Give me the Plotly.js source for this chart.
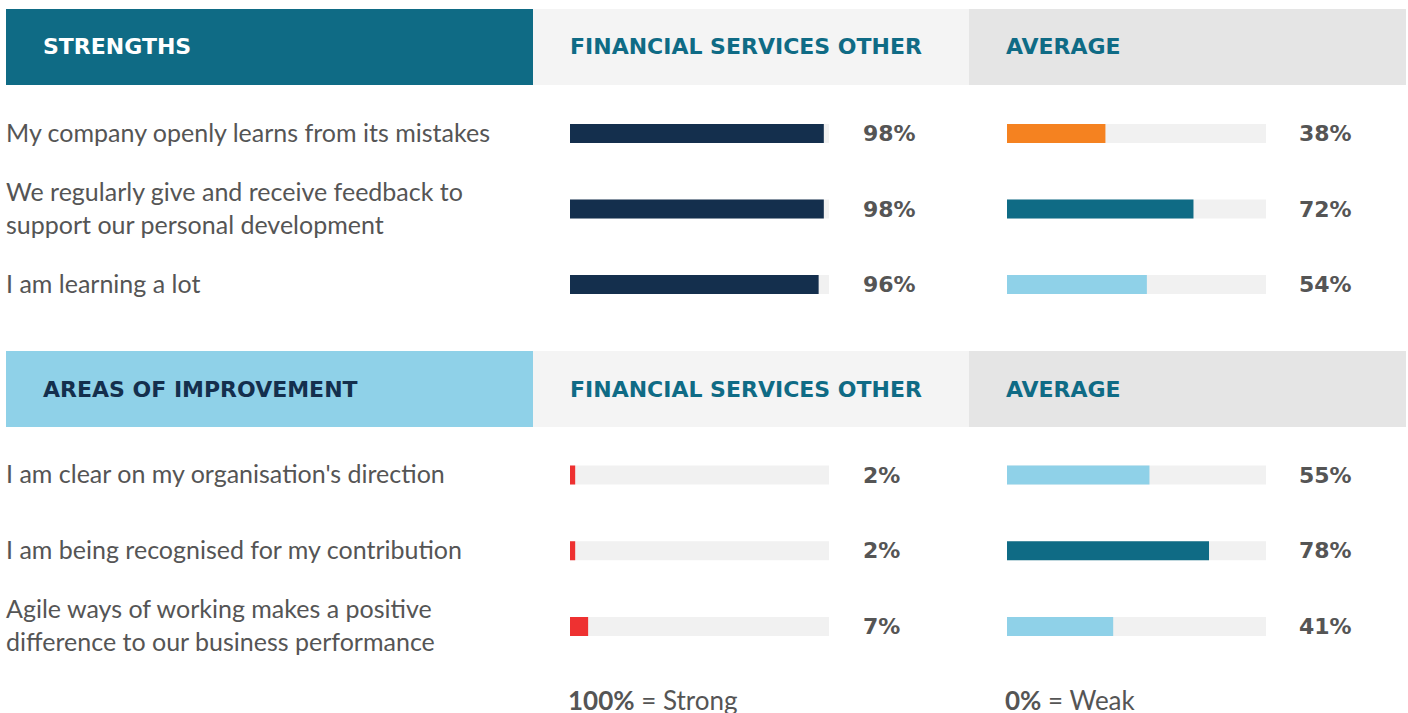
<!DOCTYPE html>
<html>
<head>
<meta charset="utf-8">
<script src="https://cdn.plot.ly/plotly-3.0.1.min.js"></script>
<style>html,body{margin:0;padding:0;background:#fff;}#chart{width:1408px;height:713px;}</style>
</head>
<body>
<div id="chart"></div>
<script>
// ---- data ----
const strengthLabels = [
  "My company openly learns from its mistakes",
  "We regularly give and receive feedback to<br>support our personal development",
  "I am learning a lot"
];
const strengthFS = [98, 98, 96];
const strengthAvg = [38, 72, 54];

const improveLabels = [
  "I am clear on my organisation's direction",
  "I am being recognised for my contribution",
  "Agile ways of working makes a positive<br>difference to our business performance"
];
const improveFS = [2, 2, 7];
const improveAvg = [55, 78, 41];

const sectionTitles = ["STRENGTHS", "AREAS OF IMPROVEMENT"];
const columnTitles = ["FINANCIAL SERVICES OTHER", "AVERAGE"];
const footerLabels = ["<b>100%</b> = Strong", "<b>0%</b> = Weak"];
const scaleMax = 100;

// ---- styles ----
const NAVY = "#142f4d", TEAL = "#0f6b85", LIGHT = "#8fd1e8", ORANGE = "#f58220", RED = "#ee3131";
const TRACK = "#f1f1f1", GREY = "#555555";
const strengthAvgColors = [ORANGE, TEAL, LIGHT];
const improveAvgColors = [LIGHT, TEAL, LIGHT];

const W = 1408, H = 713;
const fx = p => p / W;
const fy = p => 1 - p / H;

const BW = 0.252;
function trackTrace(cats, xa, ya) {
  return {type: "bar", orientation: "h", y: cats, x: cats.map(() => scaleMax),
    xaxis: xa, yaxis: ya, width: BW, marker: {color: TRACK}, hoverinfo: "skip", showlegend: false};
}
function valTrace(cats, vals, colors, xa, ya) {
  return {type: "bar", orientation: "h", y: cats, x: vals,
    xaxis: xa, yaxis: ya, width: BW, marker: {color: colors}, hoverinfo: "skip", showlegend: false};
}

const data = [
  trackTrace(strengthLabels, "x", "y"),
  valTrace(strengthLabels, strengthFS, strengthLabels.map(() => NAVY), "x", "y"),
  trackTrace(strengthLabels, "x2", "y"),
  valTrace(strengthLabels, strengthAvg, strengthAvgColors, "x2", "y"),
  trackTrace(improveLabels, "x", "y2"),
  valTrace(improveLabels, improveFS, improveLabels.map(() => RED), "x", "y2"),
  trackTrace(improveLabels, "x2", "y2"),
  valTrace(improveLabels, improveAvg, improveAvgColors, "x2", "y2")
];

const annotations = [];
const labelFont = {family: "Lato, 'DejaVu Sans', sans-serif", size: 25, color: GREY};
const pctFont = {family: "'DejaVu Sans', sans-serif", size: 22, color: GREY, weight: 700};
const headFont = {family: "'DejaVu Sans', sans-serif", size: 22, weight: 700};

function addSection(labels, fs, avg, ya) {
  labels.forEach((lab, i) => {
    annotations.push({xref: "paper", yref: ya, x: fx(4), y: lab, xanchor: "left", yanchor: "middle",
      align: "left", text: lab, showarrow: false, font: labelFont, yshift: 2});
    annotations.push({xref: "x", yref: ya, x: scaleMax, y: lab, xanchor: "left", yanchor: "middle",
      xshift: 32, text: fs[i] + "%", showarrow: false, font: pctFont});
    annotations.push({xref: "x2", yref: ya, x: scaleMax, y: lab, xanchor: "left", yanchor: "middle",
      xshift: 31, text: avg[i] + "%", showarrow: false, font: pctFont});
  });
}
addSection(strengthLabels, strengthFS, strengthAvg, "y");
addSection(improveLabels, improveFS, improveAvg, "y2");

const headerRows = [{top: 9, bot: 85, leftColor: TEAL, textColor: "#ffffff"},
                    {top: 351, bot: 427, leftColor: LIGHT, textColor: NAVY}];
const shapes = [];
headerRows.forEach((h, k) => {
  shapes.push({type: "rect", xref: "paper", yref: "paper", x0: fx(6), x1: fx(533), y0: fy(h.bot), y1: fy(h.top),
    fillcolor: h.leftColor, line: {width: 0}, layer: "below"});
  shapes.push({type: "rect", xref: "paper", yref: "paper", x0: fx(533), x1: fx(969), y0: fy(h.bot), y1: fy(h.top),
    fillcolor: "#f4f4f4", line: {width: 0}, layer: "below"});
  shapes.push({type: "rect", xref: "paper", yref: "paper", x0: fx(969), x1: fx(1406), y0: fy(h.bot), y1: fy(h.top),
    fillcolor: "#e5e5e5", line: {width: 0}, layer: "below"});
  const mid = (h.top + h.bot) / 2;
  annotations.push({xref: "paper", yref: "paper", x: fx(41), y: fy(mid), xanchor: "left", yanchor: "middle",
    text: sectionTitles[k], showarrow: false, font: Object.assign({color: h.textColor}, headFont)});
  annotations.push({xref: "paper", yref: "paper", x: fx(568), y: fy(mid), xanchor: "left", yanchor: "middle",
    text: columnTitles[0], showarrow: false, font: Object.assign({color: TEAL}, headFont)});
  annotations.push({xref: "paper", yref: "paper", x: fx(1004), y: fy(mid), xanchor: "left", yanchor: "middle",
    text: columnTitles[1], showarrow: false, font: Object.assign({color: TEAL}, headFont)});
});

annotations.push({xref: "paper", yref: "paper", x: fx(566), y: fy(700), xanchor: "left", yanchor: "middle",
  text: footerLabels[0], showarrow: false, font: {family: "Lato, sans-serif", size: 26, color: GREY}});
annotations.push({xref: "paper", yref: "paper", x: fx(1003), y: fy(700), xanchor: "left", yanchor: "middle",
  text: footerLabels[1], showarrow: false, font: {family: "Lato, sans-serif", size: 26, color: GREY}});

const hiddenX = {showgrid: false, zeroline: false, showticklabels: false, showline: false, ticks: "", range: [0, scaleMax], fixedrange: true};
const hiddenY = {showgrid: false, zeroline: false, showticklabels: false, showline: false, ticks: "", type: "category", range: [2.5, -0.5], fixedrange: true};

const ROW = 75.5;
const layout = {
  width: W, height: H,
  margin: {l: 0, r: 0, t: 0, b: 0},
  paper_bgcolor: "#ffffff", plot_bgcolor: "rgba(0,0,0,0)",
  barmode: "overlay",
  showlegend: false,
  xaxis: Object.assign({domain: [fx(570), fx(829)], anchor: "y"}, hiddenX),
  xaxis2: Object.assign({domain: [fx(1007), fx(1266)], anchor: "y"}, hiddenX),
  yaxis: Object.assign({domain: [fy(133.5 + 2.5 * ROW), fy(133.5 - 0.5 * ROW)], anchor: "x"}, hiddenY),
  yaxis2: Object.assign({domain: [fy(475 + 2.5 * ROW + 0.5), fy(475 - 0.5 * ROW)], anchor: "x"}, hiddenY),
  shapes: shapes,
  annotations: annotations
};

Plotly.newPlot("chart", data, layout, {displayModeBar: false, staticPlot: true});
</script>
</body>
</html>
